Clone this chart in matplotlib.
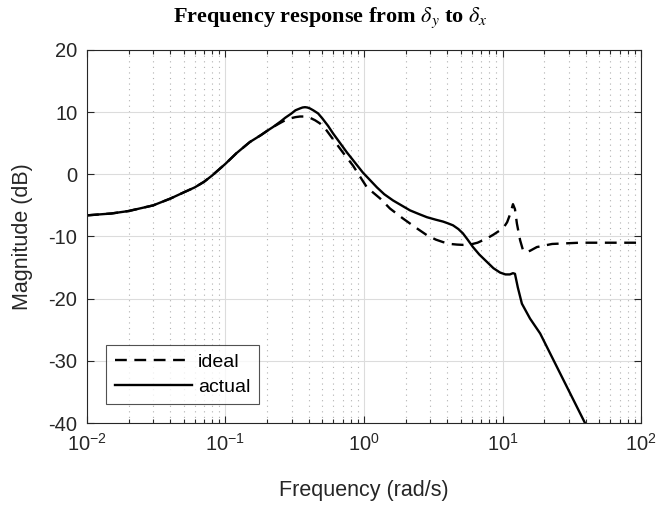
import matplotlib
matplotlib.use("Agg")
import matplotlib.pyplot as plt
from matplotlib.ticker import LogLocator, NullFormatter

plt.rcParams['font.family'] = ['Liberation Sans', 'DejaVu Sans']
plt.rcParams['mathtext.fontset'] = 'custom'
plt.rcParams['mathtext.rm'] = 'Liberation Sans'
plt.rcParams['mathtext.it'] = 'Liberation Sans:italic'
plt.rcParams['axes.unicode_minus'] = False

# ---- data ----
freq_ideal = [0.01, 0.015, 0.02, 0.03, 0.04, 0.05, 0.06, 0.07, 0.08, 0.1, 0.12,
              0.15, 0.18, 0.2, 0.22, 0.25, 0.27, 0.3, 0.32, 0.345, 0.37, 0.407,
              0.443, 0.48, 0.523, 0.6, 0.705, 0.833, 1.05, 1.31, 1.54, 1.91, 2.34,
              2.85, 3.3, 3.72, 4.2, 4.69, 5.2, 5.83, 6.6, 7.73, 8.6, 9.6, 10.3,
              10.8, 11.4, 11.9, 12.3, 12.7, 13.4, 14.1, 14.8, 15.8, 17.7, 22.8,
              36.0, 100.0]
mag_ideal = [-6.6, -6.3, -5.9, -5.0, -3.9, -2.9, -2.1, -1.2, -0.2, 1.7, 3.4,
             5.2, 6.3, 7.0, 7.6, 8.3, 8.7, 9.05, 9.2, 9.3, 9.3, 9.1,
             8.7, 8.2, 7.4, 5.6, 3.5, 1.4, -2.1, -3.9, -5.5, -7.1, -8.5,
             -9.8, -10.5, -10.9, -11.2, -11.3, -11.35, -11.3, -11.0, -10.3, -9.7,
             -9.0, -8.4, -7.7, -6.3, -4.8, -5.6, -7.9, -10.6, -12.3, -12.5, -12.3,
             -11.7, -11.2, -11.0, -11.0]

freq_actual = [0.01, 0.015, 0.02, 0.03, 0.04, 0.05, 0.06, 0.07, 0.08, 0.1, 0.12,
               0.15, 0.18, 0.2, 0.22, 0.25, 0.27, 0.3, 0.32, 0.345, 0.36, 0.375,
               0.39, 0.407, 0.43, 0.466, 0.5, 0.55, 0.597, 0.754, 0.98, 1.24, 1.4,
               1.62, 1.9, 2.15, 2.5, 2.85, 3.3, 3.72, 4.0, 4.39, 4.8, 5.18, 5.6,
               6.12, 6.8, 7.73, 8.6, 9.6, 10.5, 11.3, 11.9, 12.3, 12.9, 13.8, 15.8,
               18.7, 39.4, 50.0]
mag_actual = [-6.6, -6.3, -5.9, -5.0, -3.9, -2.9, -2.1, -1.2, -0.2, 1.7, 3.4,
              5.2, 6.3, 7.0, 7.6, 8.5, 9.1, 9.8, 10.3, 10.6, 10.75, 10.8,
              10.75, 10.6, 10.3, 9.8, 9.0, 7.8, 6.6, 3.5, 0.3, -2.1, -3.2,
              -4.2, -5.1, -5.8, -6.4, -6.9, -7.3, -7.6, -7.85, -8.2, -8.8, -9.5,
              -10.5, -11.7, -12.9, -14.1, -15.1, -15.8, -16.1, -16.1, -15.9, -16.0,
              -18.2, -20.8, -23.2, -25.6, -40.0, -44.2]

xlim = (1e-2, 1e2)
ylim = (-40, 20)
yticks = [-40, -30, -20, -10, 0, 10, 20]

fig = plt.figure(figsize=(6.62, 5.08), dpi=100)
ax = fig.add_axes([0.1314, 0.1673, 0.8369, 0.7343])

ax.semilogx(freq_ideal, mag_ideal, color='black', lw=1.7, dashes=(5.0, 3.2),
            label='ideal')
ax.semilogx(freq_actual, mag_actual, color='black', lw=1.7, label='actual')

ax.set_xlim(*xlim)
ax.set_ylim(*ylim)
ax.set_yticks(yticks)
ax.xaxis.set_major_locator(LogLocator(base=10, numticks=10))
ax.xaxis.set_minor_locator(LogLocator(base=10, subs=range(2, 10), numticks=100))
ax.xaxis.set_minor_formatter(NullFormatter())

ax.grid(True, which='major', color='#dcdcdc', lw=0.8, ls='-')
ax.grid(True, which='minor', axis='x', color='#b0b0b0', lw=0.8, ls=(0, (1, 4)))
ax.set_axisbelow(True)

ax.tick_params(which='both', direction='in', top=True, right=True,
               colors='#262626', labelcolor='#262626')
ax.tick_params(which='major', length=5, width=0.8, labelsize=14.5, pad=7)
ax.tick_params(which='minor', length=3, width=0.8)
for s in ax.spines.values():
    s.set_color('#262626')
    s.set_linewidth(0.8)

ax.set_xlabel('Frequency (rad/s)', fontsize=15.5, color='#262626', labelpad=18)
ax.set_ylabel('Magnitude (dB)', fontsize=15.5, color='#262626', labelpad=11)
ax.set_title(r'Frequency response from $\delta_y$ to $\delta_x$',
             fontsize=16, fontweight='bold', family='Liberation Serif',
             math_fontfamily='stix', pad=20, x=0.44)

leg = ax.legend(loc='lower left', bbox_to_anchor=(0.034, 0.05), fontsize=14,
                frameon=True, fancybox=False, edgecolor='#262626',
                handlelength=4.0, handletextpad=0.3, borderpad=0.45,
                labelspacing=0.35, borderaxespad=0)
leg.get_frame().set_linewidth(0.8)

fig.savefig('out.png', dpi=100)
